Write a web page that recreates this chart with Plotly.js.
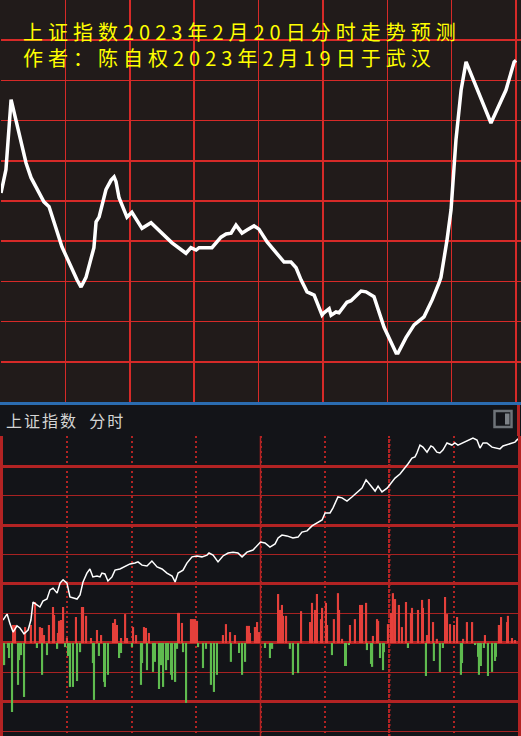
<!DOCTYPE html>
<html><head><meta charset="utf-8">
<script src="https://cdn.plot.ly/plotly-3.0.1.min.js"></script>
<style>html,body{margin:0;padding:0;background:#131418;overflow:hidden;} #chart{width:521px;height:736px;}</style>
</head><body><div id="chart"></div>
<script>
// ---- text ----
const titleLine1 = '上证指数2023年2月20日分时走势预测';
const titleLine2 = '作者：陈自权2023年2月19日于武汉';
const panelLabel = '上证指数\u00a0\u00a0分时';

// ---- top panel: forecast (minute of session, index level) ----
const topMin = [0,2.3,4.7,9.3,11.7,14.0,20.0,22.4,28.4,35.4,37.3,39.6,43.3,44.3,45.7,48.9,51.3,52.7,53.6,55.0,58.7,61.0,65.7,69.9,79.7,86.2,88.5,90.9,92.3,98.3,102.5,104.9,107.2,109.5,112.3,114.6,117.9,120.2,124.0,131.9,135.1,137.5,139.8,142.6,145.9,149.6,150.5,152.9,153.8,156.1,157.5,161.2,163.1,167.8,170.1,173.8,178.5,184.1,185.0,188.7,192.5,197.1,200.9,204.1,205.0,207.8,209.7,211.1,212.0,214.4,216.7,228.3,235.3,239.1,240];
const topVal = [3226.0,3228.9,3237.6,3232.6,3229.7,3227.9,3224.9,3224.3,3219.3,3215.2,3214.3,3215.5,3219.2,3222.4,3223.0,3226.4,3227.6,3228.0,3227.4,3225.4,3223.0,3223.6,3221.6,3222.3,3219.8,3218.5,3219.2,3218.9,3219.2,3219.2,3220.5,3220.9,3221.0,3222.0,3221.0,3221.4,3221.9,3221.5,3219.9,3217.4,3217.4,3216.7,3215.2,3213.7,3213.3,3210.8,3211.1,3211.6,3210.8,3211.2,3211.1,3212.4,3212.6,3213.8,3213.7,3213.1,3209.3,3206.1,3206.1,3208.0,3209.6,3210.6,3212.7,3214.8,3215.5,3220.1,3223.9,3229.2,3232.6,3238.8,3242.3,3234.7,3238.8,3242.3,3242.5];

// ---- bottom panel: actual intraday line ----
const botMin = [0,1.9,3.3,4.7,6.5,7.9,9.8,11.7,13.0,14.0,15.8,17.2,18.6,20.5,21.9,23.3,25.2,26.6,28.0,29.8,31.2,32.6,34.5,35.9,37.3,39.1,40.5,41.9,43.8,45.2,46.1,47.5,48.9,50.8,52.2,54.5,56.9,59.2,61.5,62.9,64.8,67.1,69.4,71.8,74.1,76.4,78.8,80.2,81.6,83.9,85.7,88.1,90.4,92.7,95.1,96.0,97.9,100.2,102.5,104.9,107.2,109.5,111.4,113.7,116.5,118.8,120,122.1,124.4,126.8,128.2,130.0,132.3,135.1,137.5,139.3,141.7,144.0,146.3,148.7,150.1,152.4,153.8,156.1,158.0,160.3,162.6,165.0,167.3,169.2,171.0,173.4,174.8,176.6,179.0,180.3,182.7,185.0,187.3,188.7,190.6,192.0,192.9,194.3,195.7,197.6,199.4,200.4,202.2,203.6,205.0,206.9,209.2,210.6,212.0,213.9,216.2,219.0,220.9,222.3,223.7,225.5,227.9,230.7,231.6,233.0,236.3,238.6,240];
const botVal = [3227.8,3229.8,3226.4,3223.7,3225.8,3225.1,3223.1,3224.4,3227.8,3233.9,3232.9,3232.2,3234.2,3234.9,3238.0,3238.6,3236.9,3240.3,3241.4,3240.3,3235.6,3235.3,3234.9,3236.3,3240.7,3243.7,3245.1,3242.4,3242.7,3242.4,3243.7,3243.4,3241.0,3242.4,3244.7,3245.1,3246.1,3246.8,3247.1,3247.5,3246.4,3246.1,3247.8,3245.8,3245.1,3243.7,3242.7,3240.7,3243.7,3244.7,3247.1,3249.2,3249.5,3249.2,3249.8,3250.5,3249.8,3247.5,3249.5,3250.5,3250.8,3250.5,3249.2,3250.8,3251.5,3253.2,3254.2,3253.9,3252.5,3253.6,3255.6,3256.6,3256.3,3255.6,3255.9,3257.6,3258.0,3259.7,3260.7,3261.7,3264.1,3264.1,3265.8,3269.5,3269.2,3268.1,3269.5,3271.2,3272.5,3275.3,3273.6,3271.5,3273.2,3271.2,3272.5,3273.6,3275.9,3277.3,3279.3,3280.7,3282.7,3283.1,3284.4,3287.1,3286.4,3284.7,3286.8,3286.4,3284.7,3284.4,3285.4,3287.8,3287.1,3287.8,3287.1,3287.8,3288.5,3289.5,3288.8,3286.1,3287.8,3287.8,3286.4,3286.1,3285.8,3286.8,3287.5,3288.1,3289.2];

// ---- bottom panel: up / down bars ----
const upMin = [4.7,5.6,10.3,13.0,14.9,17.2,18.2,19.1,21.4,23.3,23.8,25.6,26.1,27.0,28.0,29.8,34.0,36.8,37.3,38.7,41.0,43.8,45.7,51.3,52.2,53.1,55.0,56.9,57.8,60.6,62.0,65.7,66.6,68.0,81.6,82.0,83.4,87.6,88.5,89.5,90.4,102.5,103.9,105.8,108.1,113.7,114.6,115.1,117.4,118.4,119.3,128.2,129.1,130.0,130.5,131.9,138.9,143.1,144.0,145.4,146.3,148.2,148.7,150.5,151.0,154.2,156.1,156.6,158.0,161.7,164.0,166.4,167.3,169.2,172.4,174.3,174.8,179.4,180.8,181.7,182.7,184.5,185.9,187.8,190.1,190.6,193.4,195.3,195.7,197.6,198.5,200.4,202.2,206.0,206.9,208.3,210.2,211.6,214.4,216.2,218.6,224.6,231.1,232.1,234.9,235.3,237.2,238.6];
const upVal = [6.1,6.1,5.4,6.1,13.9,5.4,5.1,2.7,6.1,12.2,9.5,3.4,7.5,7.8,12.2,1.7,8.8,12.2,12.2,9.2,1.7,4.4,2.7,6.8,8.1,6.1,1.7,9.8,1.7,5.4,2.7,5.4,5.1,3.4,10.2,10.2,6.8,8.1,8.1,8.1,7.5,2.7,6.4,3.7,2.7,5.8,5.8,3.4,5.4,7.1,3.7,16.6,11.2,12.9,9.2,9.2,10.8,7.1,13.6,11.2,16.6,8.1,11.9,13.6,6.1,8.1,16.9,11.2,1.4,6.1,8.1,12.9,12.9,13.6,2.4,8.1,7.5,6.4,10.2,16.9,14.9,12.9,5.4,13.9,10.2,11.9,11.2,14.6,11.9,2.7,14.9,7.1,1.4,15.6,9.8,6.4,6.1,8.8,1.4,7.1,7.1,2.7,6.1,8.8,7.1,9.2,1.7,1.0];
const downMin = [0.5,2.3,2.8,4.2,7.0,7.5,8.4,9.8,15.8,18.2,20.5,25.2,28.9,30.3,31.2,32.6,34.5,35.9,41.9,42.4,44.7,47.1,47.5,48.9,54.1,55.0,60.1,64.3,64.8,67.1,69.9,70.8,72.7,73.6,74.6,76.0,76.9,78.3,78.8,80.2,81.1,83.9,85.3,90.9,93.2,94.6,96.9,98.3,99.7,106.2,110.0,111.4,112.8,122.1,124.4,125.4,133.7,135.1,137.5,153.3,159.4,159.8,161.2,169.6,171.5,172.0,175.7,177.1,177.5,188.7,197.1,200.8,203.6,205.0,213.4,213.9,220.0,221.4,221.8,222.7,224.1,226.0,227.9,229.3,229.7];
const downVal = [-7.5,-1.7,-5.1,-23.4,-14.2,-5.8,-4.1,-18.3,-1.7,-10.8,-4.1,-2.0,-1.4,-4.4,-14.9,-14.9,-12.9,-3.1,-6.8,-19.3,-4.4,-13.2,-14.9,-10.8,-5.1,-3.4,-1.4,-14.2,-6.8,-9.2,-9.8,-6.4,-15.6,-7.5,-14.9,-9.2,-5.8,-10.8,-12.5,-13.2,-2.0,-3.1,-20.3,-1.4,-8.5,-2.0,-14.2,-16.6,-10.8,-6.4,-3.4,-10.8,-6.4,-1.7,-5.1,-2.0,-2.0,-10.8,-10.2,-4.1,-7.8,-7.8,-0.7,-2.4,-7.1,-8.1,-5.1,-9.2,-3.1,-1.7,-11.2,-6.1,-9.8,-1.7,-10.8,-6.8,-0.7,-4.7,-10.8,-7.8,-1.7,-11.2,-9.8,-6.1,-4.7];

// ---- layout helpers (pixel -> paper) ----
const W = 521, H = 736;
const px = x => x / W;
const py = y => 1 - y / H;

const RED_TOP = '#d62a28';
const RED_BOT = '#b32323';

const traces = [
  {type:'scatter', mode:'lines', x: topMin, y: topVal, xaxis:'x', yaxis:'y',
   line:{color:'#ffffff', width:3.5}, hoverinfo:'skip'},
  {type:'bar', x: upMin, y: upVal, xaxis:'x2', yaxis:'y2', width:1,
   marker:{color:'#e5403b', line:{width:0}}, hoverinfo:'skip'},
  {type:'bar', x: downMin, y: downVal, xaxis:'x2', yaxis:'y2', width:1,
   marker:{color:'#5fbb4f', line:{width:0}}, hoverinfo:'skip'},
  {type:'scatter', mode:'lines', x: botMin, y: botVal, xaxis:'x2', yaxis:'y3',
   line:{color:'#ffffff', width:1.5}, hoverinfo:'skip'}
];

const layout = {
  width: W, height: H,
  margin:{l:0, r:0, t:0, b:0, pad:0},
  paper_bgcolor:'#131418',
  plot_bgcolor:'rgba(0,0,0,0)',
  showlegend:false,
  barmode:'overlay',
  hovermode:false,
  xaxis:{domain:[px(1),1], range:[0,242.3], tick0:0, dtick:30, showgrid:true,
         gridcolor:RED_TOP, gridwidth:1.5, zeroline:false, showticklabels:false,
         ticks:'', showline:false, anchor:'y', fixedrange:true},
  yaxis:{domain:[py(402),1], range:[3200,3250], tick0:3200, dtick:5, showgrid:true,
         gridcolor:RED_TOP, gridwidth:1.5, zeroline:false, showticklabels:false,
         ticks:'', showline:false, anchor:'x', fixedrange:true},
  xaxis2:{domain:[px(3),px(518)], range:[0,240], tick0:0, dtick:30, showgrid:true,
          gridcolor:RED_BOT, gridwidth:2, griddash:'2px,3px', zeroline:false,
          showticklabels:false, ticks:'', showline:false, anchor:'y2', fixedrange:true},
  yaxis2:{domain:[0,py(436)], range:[-31.53,70.17], tick0:0, dtick:20, showgrid:true,
          gridcolor:RED_BOT, gridwidth:3,
          minor:{dtick:10, showgrid:true, gridcolor:'#a82222', gridwidth:1.5, ticks:''},
          zeroline:false, showticklabels:false, ticks:'',
          showline:true, mirror:true, linecolor:RED_BOT, linewidth:3,
          anchor:'x2', fixedrange:true},
  yaxis3:{overlaying:'y2', range:[3188.47,3290.17], showgrid:false, zeroline:false,
          showticklabels:false, ticks:'', anchor:'x2', fixedrange:true},
  shapes:[
    {type:'rect', xref:'paper', yref:'paper', x0:0, x1:1, y0:py(402), y1:1,
     fillcolor:'#211b1a', line:{width:0}, layer:'below'},
    {type:'rect', xref:'paper', yref:'paper', x0:0, x1:1, y0:py(405), y1:py(402),
     fillcolor:'#2b6cb0', line:{width:0}, layer:'above'},
    {type:'line', xref:'x2', yref:'paper', x0:120, x1:120, y0:0, y1:py(436),
     line:{color:RED_BOT, width:1.5}, layer:'below'},
    {type:'line', xref:'x2', yref:'paper', x0:180, x1:180, y0:0, y1:py(436),
     line:{color:RED_BOT, width:2.5, dash:'2px,3px'}, layer:'below'},
    {type:'line', xref:'paper', yref:'paper', x0:px(518.5), x1:px(518.5), y0:py(436), y1:py(405),
     line:{color:RED_BOT, width:3}},
    {type:'rect', xref:'paper', yref:'paper', x0:px(494.5), x1:px(511.5), y0:py(427), y1:py(411),
     line:{color:'#6e7378', width:2.5}, fillcolor:'rgba(0,0,0,0)'},
    {type:'rect', xref:'paper', yref:'paper', x0:px(505), x1:px(509.5), y0:py(424.5), y1:py(413.5),
     line:{width:0}, fillcolor:'#7d8287'}
  ],
  annotations:[
    {xref:'paper', yref:'paper', x:px(21), y:py(44), xanchor:'left', yanchor:'middle',
     align:'left', showarrow:false,
     text:'<span style="letter-spacing:5px">'+titleLine1+'</span><br><span style="letter-spacing:5px">'+titleLine2+'</span>',
     font:{family:'"Noto Sans CJK SC", sans-serif', size:20, color:'#ffff00'}},
    {xref:'paper', yref:'paper', x:px(4), y:py(419.5), xanchor:'left', yanchor:'middle',
     showarrow:false, text:'<span style="letter-spacing:2px">'+panelLabel+'</span>',
     font:{family:'"Noto Sans CJK SC", sans-serif', size:16, color:'#d4d4d4'}}
  ]
};

Plotly.newPlot('chart', traces, layout, {staticPlot:true, displayModeBar:false});
</script></body></html>
